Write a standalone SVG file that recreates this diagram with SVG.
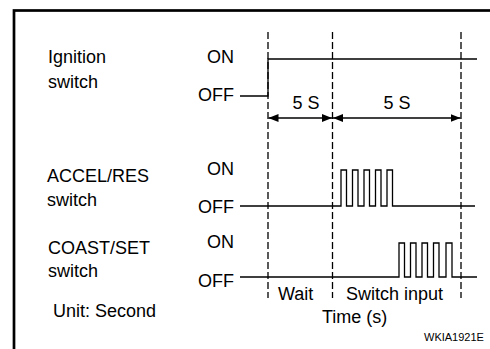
<svg xmlns="http://www.w3.org/2000/svg" width="490" height="349" viewBox="0 0 490 349">
  <style>
    text { font-family: "Liberation Sans", Arial, sans-serif; font-size: 18px; fill: #000; }
    .small { font-size: 11px; }
    .sig { fill: none; stroke: #000; stroke-width: 1.3; }
    .dash { fill: none; stroke: #000; stroke-width: 1.3; stroke-dasharray: 7 3; }
    .arr { fill: none; stroke: #000; stroke-width: 1.3; marker-start: url(#ah); marker-end: url(#ah); }
  </style>
  <defs>
    <marker id="ah" viewBox="0 0 10 8" refX="10" refY="4" markerWidth="10" markerHeight="8" markerUnits="userSpaceOnUse" orient="auto-start-reverse">
      <path d="M0,0 L10,4 L0,8 Z" fill="#000"/>
    </marker>
  </defs>
  <rect width="490" height="349" fill="#fff"/>
  <rect x="14" y="10.5" width="500" height="400" fill="none" stroke="#000" stroke-width="2.7"/>

  <g id="labels">
    <text x="48" y="63">Ignition</text>
    <text x="48" y="88">switch</text>
    <text x="207" y="63">ON</text>
    <text x="198" y="101">OFF</text>

    <text x="47" y="182">ACCEL/RES</text>
    <text x="47" y="206">switch</text>
    <text x="207" y="175">ON</text>
    <text x="198" y="213">OFF</text>

    <text x="48" y="254">COAST/SET</text>
    <text x="48" y="277">switch</text>
    <text x="207" y="248">ON</text>
    <text x="198" y="287">OFF</text>

    <text x="53" y="317">Unit: Second</text>
    <text x="278" y="300">Wait</text>
    <text x="346" y="300">Switch input</text>
    <text x="322" y="323">Time (s)</text>
    <text x="424" y="341" class="small">WKIA1921E</text>
    <text x="306" y="109" text-anchor="middle">5 S</text>
    <text x="397" y="109" text-anchor="middle">5 S</text>
  </g>

  <g id="connectors">
    <line class="dash" x1="268" y1="32" x2="268" y2="298"/>
    <line class="dash" x1="332.5" y1="32" x2="332.5" y2="298"/>
    <line class="dash" x1="461" y1="32" x2="461" y2="298"/>
    <line class="arr" x1="268.5" y1="118" x2="332" y2="118"/>
    <line class="arr" x1="333" y1="118" x2="460.5" y2="118"/>
  </g>

  <g id="ignition-signal">
    <polyline class="sig" points="240,96 268,96 268,59 477,59"/>
  </g>
  <g id="accel-signal">
    <polyline class="sig" points="240,206 341,206 341,170 346.5,170 346.5,206 352.5,206 352.5,170 358,170 358,206 364,206 364,170 369.5,170 369.5,206 375.5,206 375.5,170 381,170 381,206 387,206 387,170 392.5,170 392.5,206 475,206"/>
  </g>
  <g id="coast-signal">
    <polyline class="sig" points="240,277 399,277 399,243 404.5,243 404.5,277 410.5,277 410.5,243 416,243 416,277 422,277 422,243 427.5,243 427.5,277 433.5,277 433.5,243 439,243 439,277 446,277 446,243 452,243 452,277 477,277"/>
  </g>
</svg>
